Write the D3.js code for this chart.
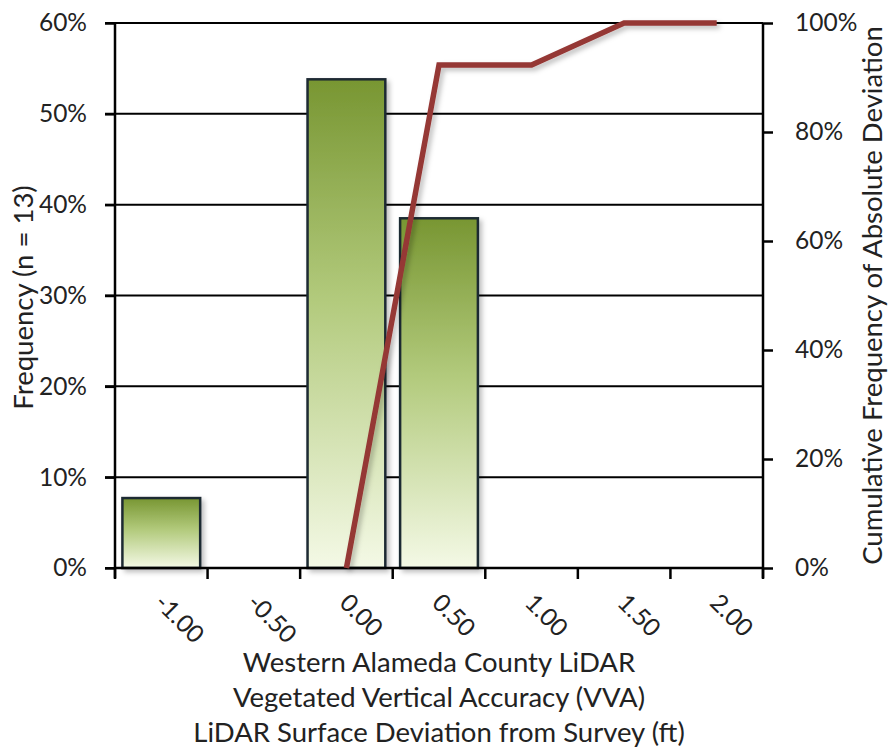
<!DOCTYPE html>
<html><head><meta charset="utf-8">
<script src="https://cdn.jsdelivr.net/npm/d3@7"></script>
<style>body{margin:0;background:#fff}svg{display:block}text{font-family:Lato,"Open Sans",sans-serif;fill:#222}</style>
</head><body><svg id="c" width="888" height="753"></svg>
<script>
const categories = ["-1.00","-0.50","0.00","0.50","1.00","1.50","2.00"];
const frequency = [0.077, 0, 0.538, 0.385, 0, 0, 0];
const cumulative = [null, null, 0, 0.923, 0.923, 1.0, 1.0];
const leftTicks = [0,0.1,0.2,0.3,0.4,0.5,0.6];
const rightTicks = [0,0.2,0.4,0.6,0.8,1.0];
const xTitle = ["Western Alameda County LiDAR","Vegetated Vertical Accuracy (VVA)","LiDAR Surface Deviation from Survey (ft)"];
const yTitle = "Frequency (n = 13)";
const y2Title = "Cumulative Frequency of Absolute Deviation";

const svg = d3.select("#c");
const L=115,R=763,T=23,B=568;
const x = d3.scaleBand().domain(categories).range([L,R]).paddingInner(0.16).paddingOuter(0.08);
const xb = d3.scaleBand().domain(categories).range([L,R]);
const y = d3.scaleLinear().domain([0,0.6]).range([B,T]);
const y2 = d3.scaleLinear().domain([0,1]).range([B,T]);

const defs = svg.append("defs");
const g = defs.append("linearGradient").attr("id","bar").attr("x1",0).attr("y1",0).attr("x2",0).attr("y2",1);
g.append("stop").attr("offset","0%").attr("stop-color","#789632");
g.append("stop").attr("offset","45%").attr("stop-color","#b2ca7c");
g.append("stop").attr("offset","100%").attr("stop-color","#f4f9e6");
const f = defs.append("filter").attr("id","sh").attr("x","-20%").attr("y","-20%").attr("width","140%").attr("height","140%");
f.append("feDropShadow").attr("dx",3).attr("dy",3).attr("stdDeviation",2.5).attr("flood-color","#000").attr("flood-opacity",0.25);

// gridlines
svg.append("g").selectAll("line").data(leftTicks).join("line")
  .attr("x1",L-10).attr("x2",R).attr("y1",d=>y(d)).attr("y2",d=>y(d))
  .attr("stroke","#000").attr("stroke-width",2);

// bars
svg.append("g").selectAll("rect").data(categories.map((c,i)=>({c,v:frequency[i]})).filter(d=>d.v>0)).join("rect")
  .attr("x",d=>x(d.c)).attr("width",x.bandwidth())
  .attr("y",d=>y(d.v)).attr("height",d=>B-y(d.v))
  .attr("fill","url(#bar)").attr("stroke","#1e2a33").attr("stroke-width",2.5)
  .attr("filter","url(#sh)");

// axes
const yAx = d3.axisLeft(y).tickValues(leftTicks).tickFormat(d3.format(".0%")).tickSize(10).tickPadding(18);
const ga = svg.append("g").attr("transform",`translate(${L},0)`).call(yAx);
const y2Ax = d3.axisRight(y2).tickValues(rightTicks).tickFormat(d3.format(".0%")).tickSize(10).tickPadding(22);
const gb = svg.append("g").attr("transform",`translate(${R},0)`).call(y2Ax);
const xAx = d3.axisBottom(xb).tickSize(0).tickFormat("");
const gc = svg.append("g").attr("transform",`translate(0,${B})`).call(xAx);
[ga,gb,gc].forEach(a=>{a.select(".domain").attr("stroke","#000").attr("stroke-width",2.5);
  a.selectAll(".tick line").attr("stroke","#000").attr("stroke-width",2.5);
  a.selectAll("text").attr("font-size",24.5).attr("font-family","Lato").attr("fill","#222");});
ga.select(".domain").attr("d",`M0,${T}V${B+10}`);
gb.select(".domain").attr("d",`M0,${T}V${B+10}`);
gc.select(".domain").attr("d",`M${L},0H${R}`);
// x tick marks at band boundaries
const bounds = categories.map(c=>xb(c)).concat([R]);
svg.append("g").selectAll("line").data(bounds).join("line")
  .attr("x1",d=>d).attr("x2",d=>d).attr("y1",B).attr("y2",B+11)
  .attr("stroke","#000").attr("stroke-width",2.5);
// x labels rotated
svg.append("g").selectAll("text").data(categories).join("text")
  .attr("transform",c=>`translate(${xb(c)+xb.bandwidth()/2+4},${B+24}) rotate(45)`)
  .attr("text-anchor","start").attr("dy","0.7em").attr("font-size",24.5).text(d=>d);

// cumulative line
const line = d3.line().defined(d=>d.v!==null).x(d=>xb(d.c)+xb.bandwidth()/2).y(d=>y2(d.v));
svg.append("path").datum(categories.map((c,i)=>({c,v:cumulative[i]})))
  .attr("d",line).attr("fill","none").attr("stroke","#953735").attr("stroke-width",5.5)
  .attr("stroke-linejoin","miter").attr("filter","url(#sh)");

// titles
svg.append("g").selectAll("text").data(xTitle).join("text")
  .attr("x",(L+R)/2).attr("y",(d,i)=>672+i*35).attr("text-anchor","middle").attr("font-size",27.5).text(d=>d);
svg.append("text").attr("transform",`translate(33,${(T+B)/2+2}) rotate(-90)`).attr("text-anchor","middle").attr("font-size",27.5).text(yTitle);
svg.append("text").attr("transform",`translate(882,${(T+B)/2}) rotate(-90)`).attr("text-anchor","middle").attr("font-size",27.5).text(y2Title);
</script></body></html>
